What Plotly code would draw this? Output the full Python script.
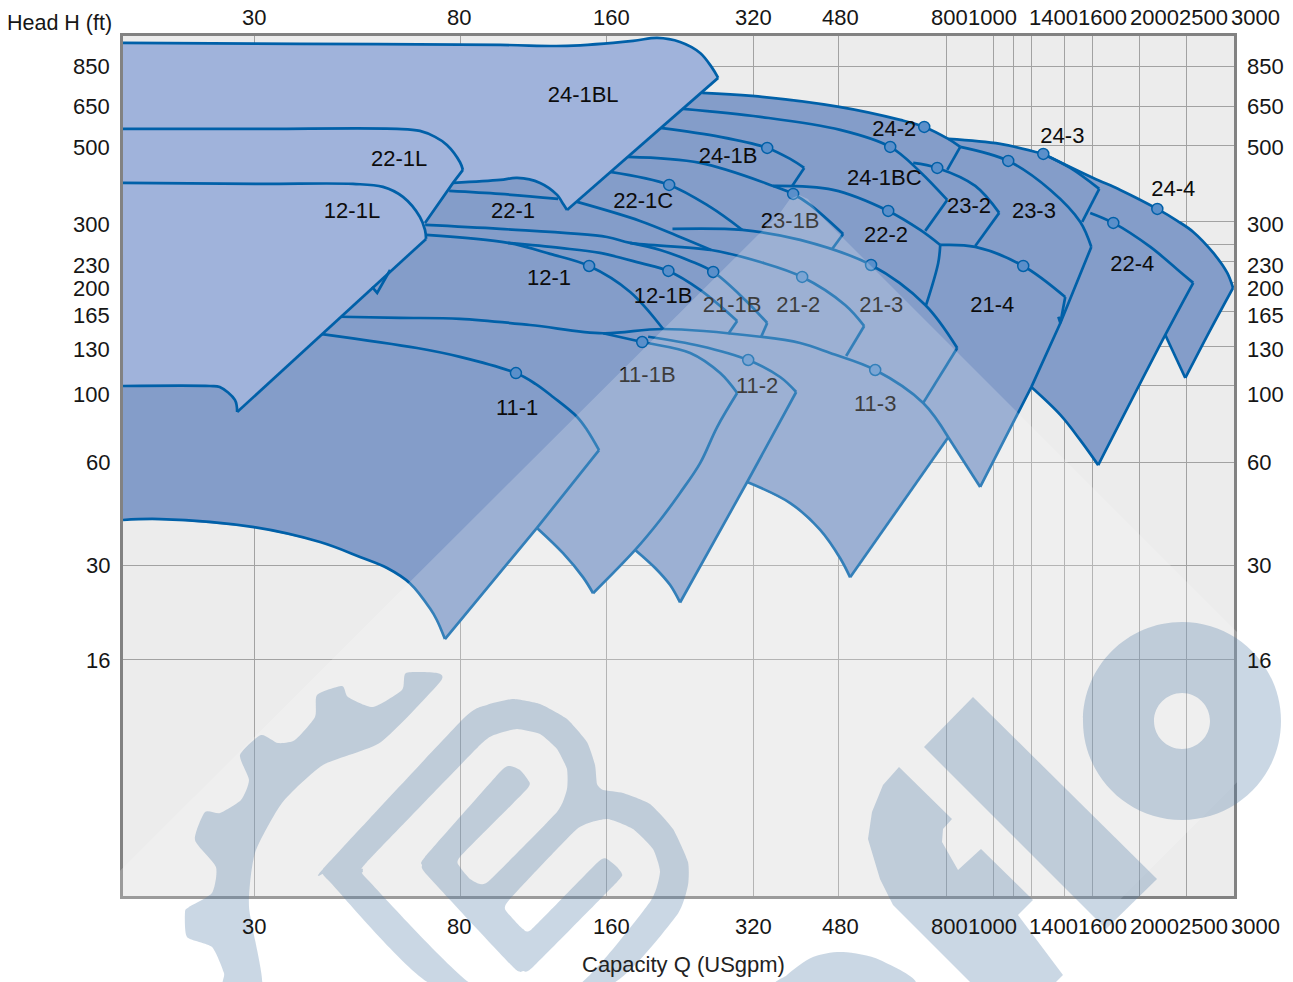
import plotly.graph_objects as go

# ---- axis ticks -------------------------------------------------------
X_GRID = [30, 80, 160, 320, 480, 800, 1000, 1100, 1200, 1400, 1600, 2000, 2500]
Y_GRID = [850, 650, 500, 300, 257, 230, 200, 165, 130, 100, 60, 30, 16]
X_LABELS = ["30", "80", "160", "320", "480", "800", "1000", "1400", "1600", "2000", "2500", "3000"]
Y_LABELS = ["850", "650", "500", "300", "230", "200", "165", "130", "100", "60", "30", "16"]

# ---- envelope outline (Q USgpm, H ft) ---------------------------------
Q_S1 = [16.12, 19.21, 30, 41.03, 49.6, 56.4, 62.9, 69.1, 71.4, 74.2]
H_S1 = [40.8, 41.06, 38.9, 35.2, 31.87, 29.6, 26.7, 22.6, 20.9, 18.4]
Q_E1 = [74.2, 114.8, 154.1]
H_E1 = [18.4, 38.7, 65.1]
Q_S2 = [114.8, 129.9, 142.9, 149.8]
H_S2 = [38.7, 32.7, 27.8, 25.0]
Q_E2 = [149.8, 182.9, 205.9, 226.3, 248.9, 269.8, 296.7]
H_E2 = [25.0, 33.4, 40.8, 48.9, 59.7, 76, 95.4]
Q_S3 = [182.9, 201.1, 215.9, 226.3]
H_S3 = [33.4, 29.6, 26.4, 23.5]
Q_E3 = [226.3, 311.1, 392.5]
H_E3 = [23.5, 52.6, 96.07]
Q_S4 = [311.1, 381.5, 439.8, 483.6, 507]
H_S4 = [52.6, 45.7, 38.2, 31.6, 27.8]
Q_E4 = [507, 807.3]
H_E4 = [27.8, 71.0]
Q_E5 = [807.3, 939.4]
H_E5 = [71.0, 50.9]
Q_E6 = [939.4, 1197, 1374, 1591]
H_E6 = [50.9, 99.3, 152.4, 253.5]
Q_S5 = [1197, 1374, 1510, 1644]
H_S5 = [99.3, 82.4, 69.6, 58.9]
Q_E7 = [1644, 2260, 2580]
H_E7 = [58.9, 140.7, 199.3]
Q_E8 = [2260, 2485]
H_E8 = [140.7, 105.5]
Q_E9 = [2485, 2798, 3116]
H_E9 = [105.5, 145.5, 192.7]
Q_244 = [3116, 3032, 2838, 2580, 2392, 2176, 1825, 1606, 1267]
H_244 = [192.7, 213, 243.5, 280.3, 301.8, 326.9, 371.2, 402.2, 472.3]
Q_243A = [1267, 1033, 807.3]
H_243A = [472.3, 505, 522.2]
Q_242 = [251.3, 318.5, 481.3, 642.8, 720.4, 807.3, 854.7]
H_242 = [710.3, 696, 646.9, 593, 565.9, 522.2, 495]
Q_HID = [226.3, 16.12]
H_HID = [725, 870]

# ---- light-coloured 24-1BL region --------------------------------------
Q_BLTOP = [16.12, 37.3, 96.4, 132.4, 181.1, 203, 226.3, 248.9, 263.5, 271.1]
H_BLTOP = [992.7, 986, 979.5, 973, 1006, 1026.6, 999, 928, 839.8, 785.4]
Q_DIAG = [271.1, 132.4]
H_DIAG = [785.4, 324.7]
Q_BUMP = [132.4, 129.2, 126.3, 116.5, 104.5, 96.4, 77.1]
H_BUMP = [324.7, 342.6, 359, 389, 402.2, 396.9, 389]
Q_D2 = [80.8, 77.1, 67.5]
H_D2 = [424.4, 389, 297.7]
Q_D3 = [67.85, 27.7]
H_D3 = [267.5, 84.05]
Q_FOOT = [27.7, 27.4, 25.5, 24.35, 16.12]
H_FOOT = [84.05, 91.1, 99.3, 100, 100]
Q_22L = [16.12, 30.87, 59.1, 65.9, 70.8, 74.9, 79.7, 80.8]
H_22L = [558.4, 558.4, 558.4, 550.9, 529.2, 501.6, 446.7, 424.4]
Q_12L = [16.12, 30.87, 47.98, 55.3, 60.8, 65.9, 67.5, 67.85]
H_12L = [389, 386.4, 386.4, 378.8, 354.2, 309.8, 284, 267.5]
Q_NOTCH = [52.5, 53.8, 57.2]
H_NOTCH = [194, 186.3, 217.3]

# ---- internal curves -----------------------------------------------------
Q_221A = [75.7, 96.4, 126.9]
H_221A = [368.8, 361.4, 349.6]
Q_221B = [138.9, 187.2, 226.3, 262.2]
H_221B = [342.6, 301.7, 271, 248.4]
Q_212 = [67.5, 96.4, 160, 178.6, 262.2, 331, 403.8, 495, 541.9]
H_212 = [293.8, 286, 271, 260.4, 248.4, 229.2, 207.4, 172, 149.4]
Q_212E = [541.9, 497.5]
H_212E = [149.4, 122.2]
Q_211B = [178.6, 205.9, 237.4, 264.8, 308.1, 342.1]
H_211B = [260.4, 248.4, 230.8, 214.4, 177.8, 152.4]
Q_211BE = [342.1, 332.5]
H_211BE = [152.4, 139]
Q_121B = [100.1, 128.1, 154.8, 187.2, 214.1, 248.9, 296.7]
H_121B = [260.4, 251.8, 243.5, 227.8, 215.9, 190.2, 154.5]
Q_121BE = [296.7, 284.3]
H_121BE = [154.5, 141.5]
Q_121 = [67.85, 100.1, 122.2, 147, 178.6, 208.8]
H_121 = [274.7, 260.4, 242, 223.2, 187.6, 146.4]
Q_221C = [162.4, 214.9, 261, 304.1]
H_221C = [418.8, 383.9, 331.3, 284]
Q_213 = [218.3, 304.1, 400, 559.8, 723.9, 842.5]
H_213 = [286, 284, 265.7, 224.7, 172, 128.9]
Q_213E = [842.5, 716.9]
H_213E = [128.9, 89.3]
Q_231B = [176.8, 248.9, 351.9, 386.9, 419.5, 490.4]
H_231B = [462.9, 444.7, 381.3, 361.4, 335.7, 276.5]
Q_231BE = [490.4, 465.5]
H_231BE = [276.5, 250.1]
Q_241B = [205.9, 273.7, 342.1, 381.5, 407.7]
H_241B = [562.1, 529.2, 491.7, 456.7, 430]
Q_241BE = [407.7, 385.1]
H_241BE = [430, 381.3]
Q_241BC = [229.6, 331, 483.6, 613.1, 706.8, 803.4]
H_241BC = [638.3, 605, 554.7, 495, 418.8, 347.2]
Q_241BCE = [803.4, 723.9]
H_241BCE = [347.2, 282.2]
Q_222 = [351.9, 467.7, 607.3, 706.8, 777.2]
H_222 = [381.3, 371.2, 322.5, 284, 256.9]
Q_222E = [777.2, 769.8, 726.9]
H_222E = [256.9, 227.8, 172]
Q_214 = [777.2, 917.6, 1152, 1406]
H_214 = [256.9, 253.5, 223.2, 181.3]
Q_214E = [1406, 1374, 1361]
H_214E = [181.3, 152.4, 158.9]
Q_232 = [683.7, 766.2, 917.6, 1028]
H_232 = [444.7, 430, 381.3, 318.3]
Q_232E = [1028, 917.6]
H_232E = [318.3, 255.2]
Q_242E = [854.7, 803.4]
H_242E = [495, 424.4]
Q_233 = [854.7, 1073, 1310, 1510, 1591]
H_233 = [495, 450.7, 371.2, 299.7, 253.5]
Q_243B = [1267, 1440, 1652]
H_243B = [472.3, 430, 373.7]
Q_243E = [1652, 1524]
H_243E = [373.7, 299.7]
Q_224 = [1583, 1766, 2105, 2426, 2580]
H_224 = [318.3, 297.7, 253.5, 214.4, 199.3]
Q_113 = [45.11, 59.96, 79.7, 111.1, 157.1, 208.8, 331, 400, 461.1, 570.9, 716.9, 807.3]
H_113 = [158.9, 157.8, 156.7, 150.4, 142.3, 146.4, 139, 133.3, 124.7, 111.3, 89.3, 71]
Q_111B = [157.1, 189.1, 237.4, 273.7, 296.7]
H_111B = [142.3, 134.2, 124.7, 109, 95.4]
Q_112 = [194.5, 248.9, 312.6, 363.7, 392.5]
H_112 = [139, 130.7, 119, 106.2, 96.07]
Q_111 = [41.4, 65, 79.7, 103.9, 114, 123.9, 138.9, 145.6, 154.1]
H_111 = [141.5, 128.9, 121.5, 109, 101.4, 92.9, 81.3, 74.5, 65.1]

# ---- best-efficiency points --------------------------------------------
Q_PTS = [720.4, 613.1, 342.1, 214.9, 386.9, 607.3, 766.2, 1073, 1267, 2176, 1766,
         1152, 559.8, 403.8, 264.8, 214.1, 147, 189.1, 312.6, 570.9, 103.9]
H_PTS = [565.9, 495, 491.7, 383.9, 361.4, 322.5, 430, 450.7, 472.3, 326.9, 297.7,
         223.2, 224.7, 207.4, 214.4, 215.9, 223.2, 134.2, 119, 111.3, 109]

# ---- pump size labels ---------------------------------------------------
NAMES = ["24-1BL", "22-1L", "12-1L", "22-1", "22-1C", "24-1B", "24-2", "24-1BC", "23-1B",
         "22-2", "23-2", "23-3", "24-3", "24-4", "22-4", "21-4", "21-3", "21-2", "21-1B",
         "12-1B", "12-1", "11-1B", "11-2", "11-3", "11-1"]
Q_NAMES = [142.9, 59.7, 47.75, 102.5, 190, 284.3, 624.9, 596, 381.5, 601, 891, 1212, 1387,
           2347, 1932, 995, 587.8, 396.3, 289.7, 208.8, 121.6, 193.5, 326.2, 570.9, 104.5]
H_NAMES = [692, 450.6, 318.2, 318.2, 340.4, 459.8, 551, 396.8, 297.7, 271, 329, 318.2, 525.5,
           368.7, 223.2, 170.7, 170.7, 170.7, 170.7, 180.3, 203.3, 106.4, 98.7, 87.5, 85.7]

# ---- styling ---------------------------------------------------------------
W, H = 1293, 982
L, R, T, B = 123, 1234, 36, 896
FONT = "Liberation Sans, Arial, sans-serif"
LINE = "#0060a8"
DARK = "#849dc9"
LIGHT = "#a0b3db"
BG = "#ececec"
GRID = "#a2a2a2"
TXT = "#161616"
FS = 22

X_LABEL_PX = [254, 459, 611, 753, 840, 949, 992, 1053, 1102, 1154, 1203, 1255]
Y_LABEL_PY = [67, 107, 147, 224, 265, 288, 315, 350, 394, 462, 565, 660]


def px(x):
    return (x - L) / (R - L)


def py(y):
    return (B - y) / (B - T)


def poly(points):
    return "M " + " L ".join(f"{px(x):.5f} {py(y):.5f}" for x, y in points) + " Z"


def smooth(points, k=0.16):
    n = len(points)
    out = [f"M {px(points[0][0]):.5f} {py(points[0][1]):.5f}"]
    for i in range(n):
        p0, p1, p2, p3 = points[i - 1], points[i], points[(i + 1) % n], points[(i + 2) % n]
        c1 = (p1[0] + (p2[0] - p0[0]) * k, p1[1] + (p2[1] - p0[1]) * k)
        c2 = (p2[0] - (p3[0] - p1[0]) * k, p2[1] - (p3[1] - p1[1]) * k)
        out.append(f"C {px(c1[0]):.5f} {py(c1[1]):.5f} {px(c2[0]):.5f} {py(c2[1]):.5f} "
                   f"{px(p2[0]):.5f} {py(p2[1]):.5f}")
    return " ".join(out) + " Z"


fig = go.Figure()


def fill(q, h, color):
    fig.add_trace(go.Scatter(x=q, y=h, mode="lines", fill="toself", fillcolor=color,
                             line=dict(width=0, color=color), hoverinfo="skip", showlegend=False))


def curve(q, h, spline=True, width=2.7):
    fig.add_trace(go.Scatter(x=q, y=h, mode="lines",
                             line=dict(color=LINE, width=width, shape="spline" if spline else "linear",
                                       smoothing=1.0),
                             hoverinfo="skip", showlegend=False))


# dark body
body_q = (Q_S1 + Q_E1[1:2] + Q_S2[1:] + Q_E2[1:2] + Q_S3[1:] + Q_E3[1:2] + Q_S4[1:] + Q_E4[1:]
          + Q_E5[1:] + Q_E6[1:2] + Q_S5[1:] + Q_E7[1:2] + Q_E8[1:] + Q_E9[1:] + Q_244[1:]
          + Q_243A[1:] + Q_242[:5][::-1] + Q_HID)
body_h = (H_S1 + H_E1[1:2] + H_S2[1:] + H_E2[1:2] + H_S3[1:] + H_E3[1:2] + H_S4[1:] + H_E4[1:]
          + H_E5[1:] + H_E6[1:2] + H_S5[1:] + H_E7[1:2] + H_E8[1:] + H_E9[1:] + H_244[1:]
          + H_243A[1:] + H_242[:5][::-1] + H_HID)
fill(body_q, body_h, DARK)

# internal curves
for q, h in [(Q_221A, H_221A), (Q_221B, H_221B), (Q_212, H_212), (Q_211B, H_211B), (Q_121B, H_121B),
             (Q_121, H_121), (Q_221C, H_221C), (Q_213, H_213), (Q_231B, H_231B), (Q_241B, H_241B),
             (Q_241BC, H_241BC), (Q_222, H_222), (Q_214, H_214), (Q_232, H_232), (Q_233, H_233),
             (Q_243B, H_243B), (Q_224, H_224), (Q_113, H_113), (Q_111B, H_111B), (Q_112, H_112),
             (Q_111, H_111), (Q_222E, H_222E)]:
    curve(q, h)
for q, h in [(Q_212E, H_212E), (Q_211BE, H_211BE), (Q_121BE, H_121BE), (Q_213E, H_213E), (Q_231BE, H_231BE),
             (Q_241BE, H_241BE), (Q_241BCE, H_241BCE), (Q_214E, H_214E), (Q_232E, H_232E), (Q_242E, H_242E),
             (Q_243E, H_243E)]:
    curve(q, h, spline=False)

# envelope outline
for q, h in [(Q_S1, H_S1), (Q_S2, H_S2), (Q_E2, H_E2), (Q_S3, H_S3), (Q_S4, H_S4), (Q_S5, H_S5), (Q_E7, H_E7),
             (Q_E9, H_E9), (Q_244, H_244), (Q_243A, H_243A), (Q_242, H_242)]:
    curve(q, h)
for q, h in [(Q_E1, H_E1), (Q_E3, H_E3), (Q_E4, H_E4), (Q_E5, H_E5), (Q_E6, H_E6), (Q_E8, H_E8)]:
    curve(q, h, spline=False)

# light region on top
light_q = Q_BLTOP + Q_DIAG[1:] + Q_BUMP[1:] + Q_D2[2:] + Q_D3 + Q_FOOT[1:]
light_h = H_BLTOP + H_DIAG[1:] + H_BUMP[1:] + H_D2[2:] + H_D3 + H_FOOT[1:]
fill(light_q, light_h, LIGHT)
for q, h in [(Q_BLTOP, H_BLTOP), (Q_BUMP, H_BUMP), (Q_FOOT, H_FOOT), (Q_22L, H_22L), (Q_12L, H_12L)]:
    curve(q, h)
for q, h in [(Q_DIAG, H_DIAG), (Q_D2, H_D2), (Q_D3, H_D3), (Q_NOTCH, H_NOTCH)]:
    curve(q, h, spline=False)

# points and names
fig.add_trace(go.Scatter(x=Q_PTS, y=H_PTS, mode="markers",
                         marker=dict(size=11, color="#5a8fca", line=dict(color=LINE, width=1.5)),
                         hoverinfo="skip", showlegend=False))
fig.add_trace(go.Scatter(x=Q_NAMES, y=H_NAMES, mode="text", text=NAMES,
                         textfont=dict(family=FONT, size=FS, color="#0c0c0c"),
                         hoverinfo="skip", showlegend=False))

# overlay: pale rotated square, then watermark (page decoration, placed in page coordinates)
DIAMOND = [(-100, 1090), (780, 213), (790, 199), (799, 195), (808, 199), (818, 213), (1312, 707), (1030, 990)]
GEAR = [(406, 673), (437, 673), (440, 682), (381, 742), (323, 765), (282, 803), (255, 853), (249, 907), (262, 985),
        (224, 985), (224, 973), (212, 947), (187, 937), (185, 912), (189, 907), (212, 893), (216, 867), (195, 840),
        (205, 812), (220, 813), (241, 800), (249, 780), (240, 755), (261, 735), (278, 743), (295, 740), (315, 717),
        (317, 695), (342, 686), (348, 697), (373, 707), (402, 690)]
E_OUT = [(323, 869), (463, 719), (487, 705), (513, 699), (540, 704), (567, 719), (587, 742), (595, 765), (597, 784),
         (603, 790), (623, 793), (650, 804), (673, 829), (688, 862), (688, 885), (677, 915), (609, 985), (433, 985),
         (330, 882), (323, 874)]
E_IN = [(363, 869), (367, 862), (480, 745), (497, 734), (517, 729), (540, 734), (557, 749), (567, 769), (567, 789),
        (557, 812), (490, 880), (480, 884), (470, 879), (460, 867), (460, 857), (527, 789), (528, 780), (520, 770),
        (510, 766), (500, 772), (425, 857), (422, 865), (427, 875), (513, 967), (523, 971), (533, 967), (617, 882),
        (622, 874), (617, 867), (607, 859), (598, 862), (532, 929), (523, 929), (513, 919), (505, 909), (510, 899),
        (577, 829), (607, 819), (633, 829), (653, 849), (660, 872), (650, 902), (578, 985), (473, 985), (367, 879),
        (363, 872)]
T_BAR = [(924, 747), (973, 697), (1157, 879), (1106, 929)]
T_LOW = [(899, 767), (952, 819), (943, 829), (942, 842), (958, 870), (981, 849), (1033, 900), (1018, 915), (1063, 975),
         (1053, 985), (973, 985), (893, 905), (880, 879), (868, 839), (872, 812), (883, 785)]
DOME = [(783, 985), (787, 975), (813, 957), (843, 952), (880, 960), (913, 985)]
CIRC = (1182, 721, 99, 28)
WM = "rgba(78,122,165,0.30)"

cx, cy, ro, ri = CIRC
k = 0.5523


def circle_path(r):
    pts = [(cx + r, cy), (cx, cy + r), (cx - r, cy), (cx, cy - r)]
    d = f"M {px(pts[0][0]):.5f} {py(pts[0][1]):.5f}"
    ctrl = [((cx + r, cy + k * r), (cx + k * r, cy + r)), ((cx - k * r, cy + r), (cx - r, cy + k * r)),
            ((cx - r, cy - k * r), (cx - k * r, cy - r)), ((cx + k * r, cy - r), (cx + r, cy - k * r))]
    for i in range(4):
        c1, c2 = ctrl[i]
        p = pts[(i + 1) % 4]
        d += f" C {px(c1[0]):.5f} {py(c1[1]):.5f} {px(c2[0]):.5f} {py(c2[1]):.5f} {px(p[0]):.5f} {py(p[1]):.5f}"
    return d + " Z"


shapes = [dict(type="path", xref="paper", yref="paper", layer="above", path=poly(DIAMOND),
               fillcolor="rgba(255,255,255,0.2)", line=dict(width=0))]
for path in [smooth(GEAR, 0.10), smooth(E_OUT, 0.08) + " " + smooth(E_IN, 0.08), poly(T_BAR), poly(T_LOW),
             circle_path(ro) + " " + circle_path(ri), smooth(DOME, 0.14)]:
    shapes.append(dict(type="path", xref="paper", yref="paper", layer="above", path=path,
                       fillcolor=WM, fillrule="evenodd", line=dict(width=0)))

ann = []
for txt, xp in zip(X_LABELS, X_LABEL_PX):
    for yp in (17, 926):
        ann.append(dict(x=px(xp), y=py(yp), xref="paper", yref="paper", text=txt, showarrow=False,
                        xanchor="center", yanchor="middle", font=dict(family=FONT, size=FS, color=TXT)))
for txt, yp in zip(Y_LABELS, Y_LABEL_PY):
    ann.append(dict(x=px(112), y=py(yp), xref="paper", yref="paper", text=txt, showarrow=False,
                    xanchor="right", yanchor="middle", font=dict(family=FONT, size=FS, color=TXT)))
    ann.append(dict(x=px(1245), y=py(yp), xref="paper", yref="paper", text=txt, showarrow=False,
                    xanchor="left", yanchor="middle", font=dict(family=FONT, size=FS, color=TXT)))
ann.append(dict(x=px(59), y=py(23), xref="paper", yref="paper", text="Head H (ft)", showarrow=False,
                xanchor="center", yanchor="middle", font=dict(family=FONT, size=21.5, color=TXT)))
ann.append(dict(x=px(683), y=py(964), xref="paper", yref="paper", text="Capacity Q (USgpm)", showarrow=False,
                xanchor="center", yanchor="middle", font=dict(family=FONT, size=FS, color="#222222")))

fig.update_layout(
    width=W, height=H, margin=dict(l=L, r=W - R, t=T, b=H - B, autoexpand=False),
    plot_bgcolor=BG, paper_bgcolor="white", showlegend=False, shapes=shapes, annotations=ann,
    xaxis=dict(type="log", range=[1.2073, 3.4956], tickmode="array", tickvals=X_GRID, showticklabels=False,
               ticks="", showgrid=True, gridcolor=GRID, gridwidth=1.3, zeroline=False, mirror=True,
               showline=True, linecolor="#828282", linewidth=3),
    yaxis=dict(type="log", range=[0.5183, 3.0168], tickmode="array", tickvals=Y_GRID, showticklabels=False,
               ticks="", showgrid=True, gridcolor=GRID, gridwidth=1.3, zeroline=False, mirror=True,
               showline=True, linecolor="#828282", linewidth=3),
)
fig.write_html("out.html", config={"displayModeBar": False},
               post_script="document.body.style.margin='0';")
